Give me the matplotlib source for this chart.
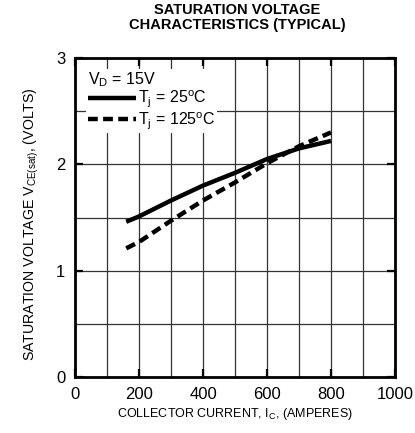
import matplotlib
matplotlib.use("Agg")
import matplotlib.pyplot as plt
from matplotlib.ticker import MultipleLocator

plt.rcParams['font.family'] = ['Liberation Sans', 'DejaVu Sans']
plt.rcParams['mathtext.fontset'] = 'custom'
plt.rcParams['mathtext.rm'] = 'Liberation Sans'
plt.rcParams['mathtext.it'] = 'Liberation Sans'
plt.rcParams['mathtext.default'] = 'rm'

# collector current (A) and V_CE(sat) (V)
ic = [160, 200, 300, 400, 500, 600, 700, 800]
vce_25 = [1.46, 1.51, 1.66, 1.80, 1.92, 2.05, 2.15, 2.22]
vce_125 = [1.21, 1.27, 1.47, 1.66, 1.83, 2.01, 2.17, 2.30]

fig = plt.figure(figsize=(4.15, 4.33), dpi=100)
ax = fig.add_axes([75 / 415, 1 - 377 / 433, 320 / 415, 319 / 433])

ax.plot(ic, vce_25, color='black', lw=3.2, solid_capstyle='butt', label='T$_j$ = 25$^o$C')
ax.plot(ic, vce_125, color='black', lw=3.2, dashes=(2.2, 1.2), label='T$_j$ = 125$^o$C')

ax.set_xlim(0, 1000)
ax.set_ylim(0, 3)
ax.xaxis.set_major_locator(MultipleLocator(200))
ax.xaxis.set_minor_locator(MultipleLocator(100))
ax.yaxis.set_major_locator(MultipleLocator(1))
ax.yaxis.set_minor_locator(MultipleLocator(0.5))
ax.grid(True, which='both', color='#333333', lw=0.9)
ax.set_axisbelow(True)
ax.tick_params(which='major', direction='in', length=6, width=1.6,
               top=True, right=True, labelsize=12, pad=7)
ax.tick_params(which='minor', length=0)
for s in ax.spines.values():
    s.set_linewidth(2)

ax.set_xlabel('COLLECTOR CURRENT, I$_C$, (AMPERES)', fontsize=9, labelpad=3)
ax.set_ylabel('SATURATION VOLTAGE V$_{CE(sat)}$, (VOLTS)', fontsize=10.2)
ax.yaxis.set_label_coords(-34 / 320, 0.48)
fig.suptitle('SATURATION VOLTAGE\nCHARACTERISTICS (TYPICAL)', fontsize=10.5,
             fontweight='bold', x=237 / 415, y=1 - 3 / 433, linespacing=1.05)

leg = ax.legend(loc='upper left', bbox_to_anchor=(11 / 320, 1 - 11 / 319),
                frameon=True, fontsize=11.5, title='V$_D$ = 15V',
                title_fontsize=11.5, alignment='left', handlelength=3.0,
                handletextpad=0.15, labelspacing=0.0, borderaxespad=0.0,
                borderpad=0.1, fancybox=False)
leg.get_frame().set_facecolor('white')
leg.get_frame().set_edgecolor('none')
leg.get_frame().set_alpha(1)

fig.savefig('out.png', dpi=100)
